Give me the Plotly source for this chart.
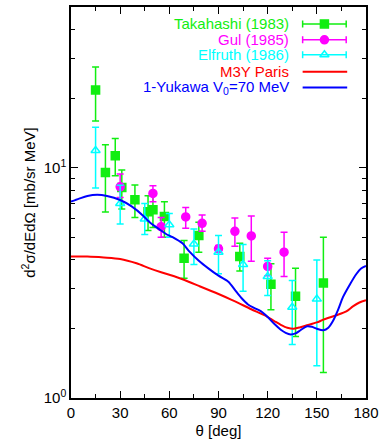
import plotly.graph_objects as go

# ---------------- data ----------------
tak_theta = [15, 21, 27, 31, 39, 47, 50, 57, 69, 78, 103, 122, 137, 154]
tak_val   = [21.8, 9.55, 11.3, 8.22, 7.27, 6.45, 6.58, 6.15, 4.05, 5.08, 4.12, 3.12, 2.77, 3.16]
tak_hi    = [27.4, 12.6, 13.4, 9.8, 8.42, 7.56, 7.6, 7.13, 4.83, 5.8, 4.7, 3.83, 3.66, 4.99]
tak_lo    = [16.0, 6.43, 9.23, 6.63, 6.09, 5.34, 5.5, 4.99, 3.31, 4.3, 3.56, 2.42, 1.85, 1.29]

gul_theta = [30, 50, 55, 70, 80, 90, 100, 110, 120, 130]
gul_val   = [8.27, 7.74, 5.55, 6.12, 5.74, 4.45, 5.3, 5.06, 3.73, 4.3]
gul_hi    = [9.4, 8.36, 6.09, 6.73, 6.24, 4.6, 6.06, 6.18, 4.05, 5.25]
gul_lo    = [7.43, 7.13, 4.99, 5.46, 5.3, 4.3, 4.56, 3.93, 3.4, 3.37]

elf_theta = [15, 30, 45, 60, 75, 90, 105, 120, 135, 150]
elf_val   = [11.9, 7.0, 6.0, 5.66, 4.67, 4.3, 3.8, 3.37, 2.48, 2.69]
elf_hi    = [15.0, 8.4, 7.0, 6.34, 5.43, 5.08, 4.64, 3.95, 3.24, 3.98]
elf_lo    = [8.17, 5.7, 5.13, 4.99, 3.8, 3.47, 2.91, 2.79, 1.71, 1.38]

m3y_theta = [0, 10, 20, 30, 40, 48, 55, 60, 68, 78, 90, 98, 102, 110, 118, 124, 128, 132, 136,
             140, 144, 150, 154, 162, 168, 172, 176, 180]
m3y_val   = [4.12, 4.12, 4.08, 4.02, 3.85, 3.66, 3.52, 3.43, 3.28, 3.07, 2.83, 2.67, 2.59, 2.43,
             2.29, 2.16, 2.08, 2.02, 2.0, 2.03, 2.07, 2.13, 2.19, 2.29, 2.38, 2.5, 2.6, 2.66]

yuk_theta = [0, 5, 10, 16, 22, 30, 37, 44, 48, 54, 58, 62, 68, 72, 78, 84, 90, 96, 100, 104,
             108, 112, 116, 120, 124, 128, 131, 134, 137, 140, 144, 147, 150, 154, 157, 160,
             163, 166, 170, 174, 177, 180]
yuk_val   = [7.13, 7.35, 7.55, 7.64, 7.55, 7.25, 6.8, 6.2, 5.8, 5.4, 5.16, 5.0, 4.7, 4.35, 3.95,
             3.65, 3.4, 3.2, 2.95, 2.72, 2.55, 2.46, 2.38, 2.25, 2.1, 1.98, 1.92, 1.89, 1.91,
             1.97, 2.05, 2.04, 2.0, 1.97, 2.02, 2.17, 2.42, 2.75, 3.1, 3.45, 3.65, 3.75]

x_ticks = [0, 30, 60, 90, 120, 150, 180]
y_tickvals = [1, 10]
y_ticktext = ["10<sup>0</sup>", "10<sup>1</sup>"]

legend_labels = ["Takahashi (1983)", "Gul (1985)", "Elfruth (1986)", "M3Y Paris",
                 "1-Yukawa V<sub>0</sub>=70 MeV"]

GREEN = "#11ee11"
MAGENTA = "#ff00ff"
CYAN = "#00ffff"
RED = "#ff0000"
BLUE = "#0000ff"
FONT = "Liberation Sans, Arial, Helvetica, sans-serif"

fig = go.Figure()


def err_trace(th, v, hi, lo, color, symbol, size):
    return go.Scatter(
        x=th, y=v, mode="markers",
        marker=dict(color=color, symbol=symbol, size=size,
                    line=dict(color=color, width=1.5)),
        error_y=dict(type="data", symmetric=False,
                     array=[h - a for h, a in zip(hi, v)],
                     arrayminus=[a - l for a, l in zip(v, lo)],
                     color=color, thickness=1.5, width=3.5),
        showlegend=False, cliponaxis=True)


fig.add_trace(err_trace(tak_theta, tak_val, tak_hi, tak_lo, GREEN, "square", 8))
fig.add_trace(err_trace(gul_theta, gul_val, gul_hi, gul_lo, MAGENTA, "circle", 8))
fig.add_trace(err_trace(elf_theta, elf_val, elf_hi, elf_lo, CYAN, "triangle-up-open", 8))

fig.add_trace(go.Scatter(x=m3y_theta, y=m3y_val, mode="lines",
                         line=dict(color=RED, width=2, shape="spline", smoothing=0.8),
                         showlegend=False))
fig.add_trace(go.Scatter(x=yuk_theta, y=yuk_val, mode="lines",
                         line=dict(color=BLUE, width=2, shape="spline", smoothing=0.8),
                         showlegend=False))

# ---------- hand-made gnuplot-style key (text right, sample on right) ----------
row_y = [17, 33, 48, 65, 81]          # pixel offsets from top of plot area
colors = [GREEN, MAGENTA, CYAN, RED, BLUE]
symbols = ["square", "circle", "triangle-up-open"]
for i, (lab, c) in enumerate(zip(legend_labels, colors)):
    fig.add_annotation(x=222, y=row_y[i], xref="x2", yref="y2", text=lab,
                       showarrow=False, xanchor="right", yanchor="middle",
                       font=dict(color=c, size=15, family=FONT))
    if i < 3:
        fig.add_trace(go.Scatter(
            x=[256], y=[row_y[i]], xaxis="x2", yaxis="y2", mode="markers",
            marker=dict(color=c, symbol=symbols[i], size=8, line=dict(color=c, width=1.5)),
            error_x=dict(type="constant", value=22, color=c, thickness=1.5, width=3.5),
            showlegend=False, hoverinfo="skip"))
    else:
        fig.add_trace(go.Scatter(
            x=[234, 279], y=[row_y[i], row_y[i]], xaxis="x2", yaxis="y2", mode="lines",
            line=dict(color=c, width=2), showlegend=False, hoverinfo="skip"))

axis_common = dict(showline=True, linecolor="black", linewidth=1.5, mirror="ticks",
                   ticks="inside", tickcolor="black", tickwidth=1, showgrid=False,
                   zeroline=False, tickfont=dict(size=15, family=FONT, color="black"))

fig.update_layout(
    width=384, height=448,
    margin=dict(l=71, r=15, t=5, b=50),
    paper_bgcolor="white", plot_bgcolor="white",
    font=dict(family=FONT, size=15, color="black"),
    xaxis=dict(range=[0, 180], tickvals=x_ticks, ticklen=7,
               minor=dict(ticks="inside", ticklen=4, dtick=15, tick0=0, tickcolor="black"),
               title=dict(text="θ [deg]", font=dict(size=15, family=FONT), standoff=6),
               **axis_common),
    yaxis=dict(type="log", range=[0, 1.69897], tickvals=y_tickvals, ticktext=y_ticktext,
               ticklen=7,
               minor=dict(ticks="inside", ticklen=4, tickcolor="black",
                          tickvals=[2, 3, 4, 5, 6, 7, 8, 9, 20, 30, 40, 50]),
               title=dict(text="d<sup>2</sup>σ/dEdΩ [mb/sr MeV]",
                          font=dict(size=15, family=FONT), standoff=4),
               **axis_common),
    xaxis2=dict(range=[0, 298], overlaying="x", visible=False, fixedrange=True),
    yaxis2=dict(range=[393, 0], overlaying="y", visible=False, fixedrange=True),
)

fig.write_html("out.html")
